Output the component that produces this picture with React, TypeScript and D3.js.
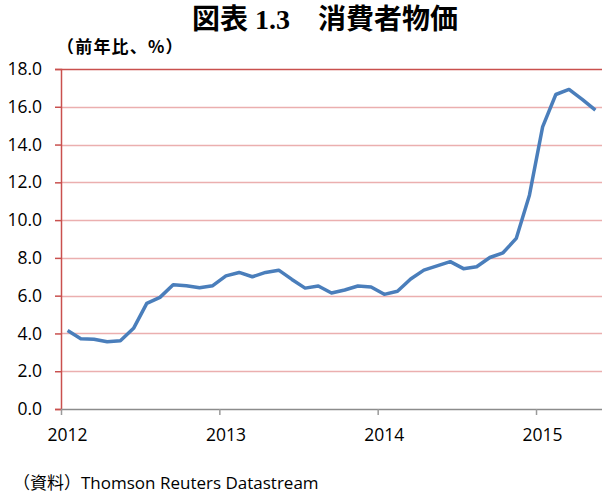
import React, { useEffect, useRef } from "react";
import * as d3 from "d3";

// monthly CPI, YoY %, Jan 2012 .. May 2015
const months: string[] = d3.range(41).map((i) => {
  const y = 2012 + Math.floor(i / 12);
  const m = (i % 12) + 1;
  return `${y}-${String(m).padStart(2, "0")}`;
});
const cpi: number[] = [
  4.15, 3.72, 3.69, 3.56, 3.61, 4.27, 5.59, 5.91, 6.58, 6.53, 6.42, 6.53,
  7.05, 7.23, 7.0, 7.23, 7.35, 6.86, 6.4, 6.51, 6.14, 6.3, 6.51, 6.46,
  6.07, 6.23, 6.88, 7.35, 7.58, 7.8, 7.43, 7.53, 8.02, 8.27, 9.03, 11.32,
  14.94, 16.65, 16.92, 16.39, 15.82,
];
const yTicks: number[] = [0, 2, 4, 6, 8, 10, 12, 14, 16, 18];
const yearLabels: string[] = ["2012", "2013", "2014", "2015"];

const W = 602;
const H = 493;
const margin = { top: 69, right: 0, bottom: 84, left: 61 };

const App = () => {
  const svgRef = useRef<SVGSVGElement>(null);

  useEffect(() => {
    const svg = d3.select(svgRef.current);
    svg.selectAll("*").remove();

    const x = d3
      .scaleBand()
      .domain(months)
      .range([margin.left, W - margin.right])
      .padding(0);
    const y = d3
      .scaleLinear()
      .domain([0, 18])
      .range([H - margin.bottom, margin.top]);

    const font = "'Open Sans', 'Noto Sans CJK JP', sans-serif";

    // gridlines
    svg
      .append("g")
      .selectAll("line")
      .data(yTicks.filter((t) => t > 0))
      .enter()
      .append("line")
      .attr("x1", margin.left)
      .attr("x2", W)
      .attr("y1", (d) => Math.round(y(d)) + 0.5)
      .attr("y2", (d) => Math.round(y(d)) + 0.5)
      .attr("stroke", (d) => (d === 18 ? "#C9504E" : "#EBAFAF"))
      .attr("stroke-width", 1.5);

    // left axis
    const yAxis = svg
      .append("g")
      .attr("transform", `translate(${margin.left},0)`)
      .call(
        d3
          .axisLeft(y)
          .tickValues(yTicks)
          .tickSize(6)
          .tickPadding(13)
          .tickFormat((d) => d3.format(".1f")(d as number))
      );
    yAxis.select(".domain").attr("stroke", "#C9504E").attr("stroke-width", 1.5);
    yAxis.selectAll(".tick line").attr("stroke", "#C9504E").attr("stroke-width", 1.5);
    yAxis
      .selectAll(".tick text")
      .attr("fill", "#000")
      .attr("font-family", font)
      .attr("font-size", 17.5);

    // bottom axis with year ticks
    const yearX = (yr: string) => x(`${yr}-01`) as number;
    const xg = svg.append("g");
    xg.append("line")
      .attr("x1", margin.left)
      .attr("x2", W)
      .attr("y1", y(0) + 0.5)
      .attr("y2", y(0) + 0.5)
      .attr("stroke", "#8C8C8C")
      .attr("stroke-width", 1.5);
    xg.selectAll(".yt")
      .data(yearLabels)
      .enter()
      .append("line")
      .attr("x1", (d) => yearX(d) + 0.5)
      .attr("x2", (d) => yearX(d) + 0.5)
      .attr("y1", y(0))
      .attr("y2", y(0) + 6)
      .attr("stroke", "#9A9A9A")
      .attr("stroke-width", 1.5);
    xg.selectAll(".yl")
      .data(yearLabels)
      .enter()
      .append("text")
      .attr("x", (d) => yearX(d) + x.bandwidth() / 2)
      .attr("y", 441)
      .attr("text-anchor", "middle")
      .attr("font-family", font)
      .attr("font-size", 17.5)
      .text((d) => d);

    // line
    const line = d3
      .line<number>()
      .x((_, i) => (x(months[i]) as number) + x.bandwidth() / 2)
      .y((d) => y(d));
    svg
      .append("path")
      .datum(cpi)
      .attr("d", line)
      .attr("fill", "none")
      .attr("stroke", "#4A7EBB")
      .attr("stroke-width", 3.5)
      .attr("stroke-linejoin", "round");

    // titles
    svg
      .append("text")
      .attr("x", 325)
      .attr("y", 29)
      .attr("text-anchor", "middle")
      .attr("font-family", "'Liberation Serif', 'Noto Sans CJK JP', serif")
      .attr("font-weight", "bold")
      .attr("font-size", 28)
      .text("図表 1.3　消費者物価");
    svg
      .append("text")
      .attr("x", 57)
      .attr("y", 53)
      .attr("font-family", "'Noto Sans CJK JP', sans-serif")
      .attr("font-weight", "bold")
      .attr("font-size", 17)
      .attr("letter-spacing", 1.2)
      .text("（前年比、%）");
    svg
      .append("text")
      .attr("x", 13)
      .attr("y", 489)
      .attr("font-family", font)
      .attr("font-size", 17)
      .text("（資料）Thomson Reuters Datastream");
  }, []);

  return (
    <svg
      ref={svgRef}
      width={W}
      height={H}
      style={{ position: "absolute", left: 0, top: 0, background: "#fff" }}
    />
  );
};

export default App;
